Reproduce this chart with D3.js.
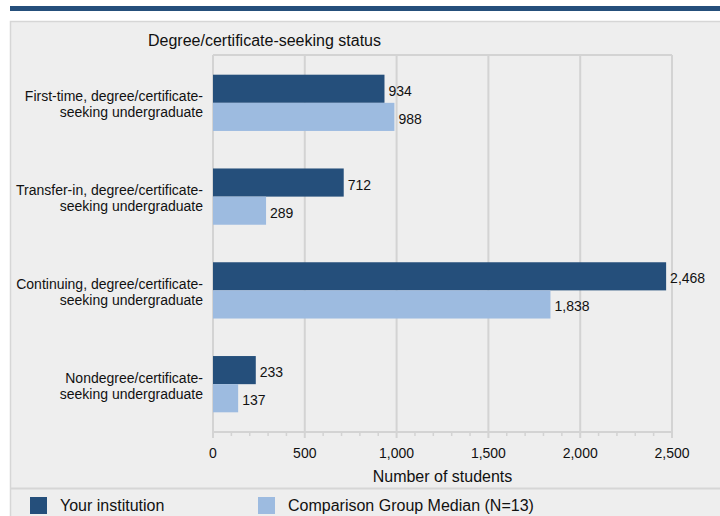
<!DOCTYPE html>
<html>
<head>
<meta charset="utf-8">
<script src="https://cdn.jsdelivr.net/npm/d3@7"></script>
<style>
  html, body { margin: 0; padding: 0; background: #ffffff; }
  svg { display: block; font-family: "Liberation Sans", Arial, sans-serif; }
</style>
</head>
<body>
<svg id="chart" width="720" height="516"></svg>
<script>
const categories = [
  ["First-time, degree/certificate-", "seeking undergraduate"],
  ["Transfer-in, degree/certificate-", "seeking undergraduate"],
  ["Continuing, degree/certificate-", "seeking undergraduate"],
  ["Nondegree/certificate-", "seeking undergraduate"]
];
const seriesNames = ["Your institution", "Comparison Group Median (N=13)"];
const yourInstitution = [934, 712, 2468, 233];
const comparisonMedian = [988, 289, 1838, 137];
const xTicks = [0, 500, 1000, 1500, 2000, 2500];
const chartTitle = "Degree/certificate-seeking status";
const axisTitle = "Number of students";

const colors = ["#254f7b", "#9dbbe0"];
const svg = d3.select("#chart");

// top band
svg.append("rect").attr("x", 10).attr("y", 6).attr("width", 710).attr("height", 5).attr("fill", "#254f7b");
// panel
svg.append("rect").attr("x", 10.5).attr("y", 21.5).attr("width", 720).attr("height", 510)
  .attr("fill", "#eeeeee").attr("stroke", "#d6d6d6").attr("stroke-width", 1.5);
svg.append("line").attr("x1", 10).attr("x2", 720).attr("y1", 488.5).attr("y2", 488.5)
  .attr("stroke", "#d6d6d6").attr("stroke-width", 2);

svg.append("text").attr("x", 148).attr("y", 46).attr("font-size", 16).attr("fill", "#111")
  .text(chartTitle);

const x = d3.scaleLinear().domain([0, 2500]).range([213, 672]);
const y = d3.scaleBand().domain(d3.range(categories.length)).range([55, 432])
  .paddingInner(0.4).paddingOuter(0.21);

const gridColor = "#d3d3d3";
// grid lines
svg.append("g").selectAll("line").data(xTicks).join("line")
  .attr("x1", d => x(d)).attr("x2", d => x(d)).attr("y1", 55).attr("y2", 438)
  .attr("stroke", gridColor).attr("stroke-width", 2);
// top border of plot
svg.append("line").attr("x1", x(0)).attr("x2", x(2500)).attr("y1", 55).attr("y2", 55)
  .attr("stroke", gridColor).attr("stroke-width", 2);
// bottom axis line
svg.append("line").attr("x1", x(0)).attr("x2", x(2500)).attr("y1", 432).attr("y2", 432)
  .attr("stroke", gridColor).attr("stroke-width", 2);
// minor ticks
svg.append("g").selectAll("line").data(d3.range(0, 2501, 100).filter(v => v % 500 !== 0)).join("line")
  .attr("x1", d => x(d)).attr("x2", d => x(d)).attr("y1", 432).attr("y2", 436)
  .attr("stroke", gridColor).attr("stroke-width", 1.5);

// tick labels
const fmt = d3.format(",");
svg.append("g").selectAll("text").data(xTicks).join("text")
  .attr("x", d => x(d)).attr("y", 458).attr("text-anchor", "middle")
  .attr("font-size", 14).attr("fill", "#111").text(d => fmt(d));
svg.append("text").attr("x", (x(0) + x(2500)) / 2).attr("y", 482).attr("text-anchor", "middle")
  .attr("font-size", 16).attr("fill", "#111").text(axisTitle);

// category labels
const catG = svg.append("g");
categories.forEach((lines, i) => {
  const cy = y(i) + y.bandwidth() / 2;
  const t = catG.append("text").attr("text-anchor", "end").attr("font-size", 14).attr("fill", "#111");
  lines.forEach((ln, j) => {
    t.append("tspan").attr("x", 203).attr("y", cy + (j - (lines.length - 1) / 2) * 16 + 6.5).text(ln);
  });
});

// bars
const series = [yourInstitution, comparisonMedian];
const h = y.bandwidth() / 2;
series.forEach((vals, s) => {
  const g = svg.append("g");
  g.selectAll("rect").data(vals).join("rect")
    .attr("x", x(0)).attr("y", (d, i) => y(i) + s * h)
    .attr("width", d => x(d) - x(0)).attr("height", h)
    .attr("fill", colors[s]);
  g.selectAll("text").data(vals).join("text")
    .attr("x", d => x(d) + 4).attr("y", (d, i) => y(i) + s * h + h / 2 + 7)
    .attr("font-size", 14).attr("fill", "#111").text(d => fmt(d));
});

// legend
const legendX = [30, 258];
seriesNames.forEach((name, i) => {
  svg.append("rect").attr("x", legendX[i]).attr("y", 497).attr("width", 17).attr("height", 17).attr("fill", colors[i]);
  svg.append("text").attr("x", legendX[i] + 30).attr("y", 511).attr("font-size", 16).attr("fill", "#111").text(name);
});
</script>
</body>
</html>
